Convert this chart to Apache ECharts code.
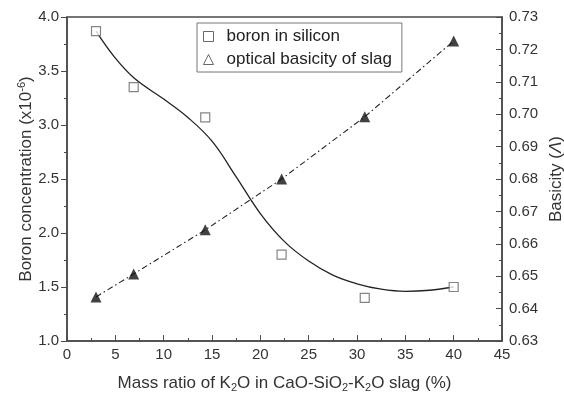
<!DOCTYPE html>
<html>
<head>
<meta charset="utf-8">
<script src="https://cdn.jsdelivr.net/npm/echarts@6/dist/echarts.min.js"></script>
<style>
  html, body { margin: 0; padding: 0; background: #fff; }
  #chart { width: 564px; height: 393px; }
</style>
</head>
<body>
<div id="chart"></div>
<script>
// K2O mass ratio (%) of the six slags
const massRatio = [3, 6.9, 14.3, 22.2, 30.8, 40];
// boron in silicon (x10^-6)
const boronValues = [3.87, 3.35, 3.07, 1.80, 1.40, 1.50];
// optical basicity of slag
const basicityValues = [0.6436, 0.6507, 0.6643, 0.680, 0.6992, 0.7226];

// fitted curve for boron
const fitX = [3, 5, 7, 10, 12.5, 15, 17.5, 20, 22.5, 25, 27.5, 30, 32.5, 35, 37.5, 40];
const fitY = [3.87, 3.62, 3.43, 3.24, 3.07, 2.85, 2.52, 2.18, 1.92, 1.74, 1.61, 1.53, 1.48, 1.46, 1.47, 1.50];

const FONT = '"Liberation Sans", Arial, sans-serif';
const AXIS_COLOR = '#4a4a4a';
const TEXT_COLOR = '#333';

const pairs = (xs, ys) => xs.map((x, i) => [x, ys[i]]);

const chart = echarts.init(document.getElementById('chart'));

const option = {
    backgroundColor: '#fff',
    animation: false,
    textStyle: { fontFamily: FONT },
    grid: {
        left: 67, right: 62, top: 17, bottom: 52,
        containLabel: false,
        outerBoundsMode: 'none',
        show: true, borderColor: AXIS_COLOR, borderWidth: 1.5
    },
    legend: {
        orient: 'vertical',
        left: 197, top: 23,
        padding: [5, 10, 4, 6],
        itemGap: 6,
        itemWidth: 10, itemHeight: 10,
        borderColor: '#777', borderWidth: 1,
        textStyle: { fontFamily: FONT, fontSize: 17, color: '#222', padding: [0, 0, 0, 8] },
        data: [
            { name: 'boron in silicon', icon: 'rect',
              itemStyle: { color: '#fff', borderColor: '#444', borderWidth: 1 } },
            { name: 'optical basicity of slag', icon: 'triangle',
              itemStyle: { color: '#fff', borderColor: '#444', borderWidth: 1 } }
        ]
    },
    xAxis: {
        type: 'value',
        min: 0, max: 45, interval: 5,
        name: '{n|Mass ratio of K}{s|2}{n|O in CaO-SiO}{s|2}{n|-K}{s|2}{n|O slag (%)}',
        nameLocation: 'middle',
        nameMoveOverlap: false,
        nameGap: 32,
        nameTextStyle: {
            rich: {
                n: { fontFamily: FONT, fontSize: 17, color: TEXT_COLOR },
                s: { fontFamily: FONT, fontSize: 11, color: TEXT_COLOR, verticalAlign: 'bottom', padding: [9, 0, 0, 0] }
            }
        },
        axisLine: { lineStyle: { color: AXIS_COLOR, width: 1.5 } },
        axisTick: { inside: true, length: 6, lineStyle: { color: AXIS_COLOR } },
        minorTick: { show: true, splitNumber: 2, length: 3, lineStyle: { color: AXIS_COLOR } },
        axisLabel: { fontSize: 15, color: TEXT_COLOR, margin: 6 },
        splitLine: { show: false }
    },
    yAxis: [
        {
            type: 'value',
            min: 1.0, max: 4.0, interval: 0.5,
            name: '{n|Boron concentration (x10}{p|-6}{n|)}',
            nameLocation: 'middle',
            nameMoveOverlap: false,
            nameRotate: 90,
            nameGap: 31,
            nameTextStyle: {
                rich: {
                    n: { fontFamily: FONT, fontSize: 17, color: TEXT_COLOR },
                    p: { fontFamily: FONT, fontSize: 11, color: TEXT_COLOR, verticalAlign: 'top', padding: [0, 0, 9, 0] }
                }
            },
            axisLine: { show: true, lineStyle: { color: AXIS_COLOR, width: 1.5 } },
            axisTick: { show: true, length: 6, lineStyle: { color: AXIS_COLOR } },
            minorTick: { show: true, splitNumber: 2, length: 3, lineStyle: { color: AXIS_COLOR } },
            axisLabel: { fontSize: 15, color: TEXT_COLOR, margin: 8, formatter: v => v.toFixed(1) },
            splitLine: { show: false }
        },
        {
            type: 'value',
            min: 0.63, max: 0.73, interval: 0.01,
            position: 'right',
            name: '{n|Basicity (}{i|Λ}{n|)}',
            nameLocation: 'middle',
            nameMoveOverlap: false,
            nameRotate: 90,
            nameGap: 46,
            nameTextStyle: {
                rich: {
                    n: { fontFamily: FONT, fontSize: 17, color: TEXT_COLOR },
                    i: { fontFamily: FONT, fontSize: 17, color: TEXT_COLOR, fontStyle: 'italic' }
                }
            },
            axisLine: { show: true, lineStyle: { color: AXIS_COLOR, width: 1.5 } },
            axisTick: { show: true, inside: true, length: 6, lineStyle: { color: AXIS_COLOR } },
            minorTick: { show: true, splitNumber: 2, length: 3, lineStyle: { color: AXIS_COLOR } },
            axisLabel: { fontSize: 15, color: TEXT_COLOR, margin: 7, formatter: v => v.toFixed(2) },
            splitLine: { show: false }
        }
    ],
    series: [
        {
            name: 'boron fit',
            type: 'line',
            yAxisIndex: 0,
            data: pairs(fitX, fitY),
            smooth: 0.4,
            showSymbol: false,
            lineStyle: { color: '#222', width: 1.3 },
            z: 2
        },
        {
            name: 'boron in silicon',
            type: 'scatter',
            yAxisIndex: 0,
            data: pairs(massRatio, boronValues),
            symbol: 'rect',
            symbolSize: 9,
            itemStyle: { color: '#fff', borderColor: '#666', borderWidth: 1.2 },
            z: 3
        },
        {
            name: 'basicity line',
            type: 'line',
            yAxisIndex: 1,
            data: pairs(massRatio, basicityValues),
            showSymbol: false,
            lineStyle: { color: '#222', width: 1.1, type: [6, 3, 1.5, 3] },
            z: 2
        },
        {
            name: 'optical basicity of slag',
            type: 'scatter',
            yAxisIndex: 1,
            data: pairs(massRatio, basicityValues),
            symbol: 'triangle',
            symbolSize: 11,
            itemStyle: { color: '#111' },
            z: 3
        }
    ]
};

chart.setOption(option);
</script>
</body>
</html>
